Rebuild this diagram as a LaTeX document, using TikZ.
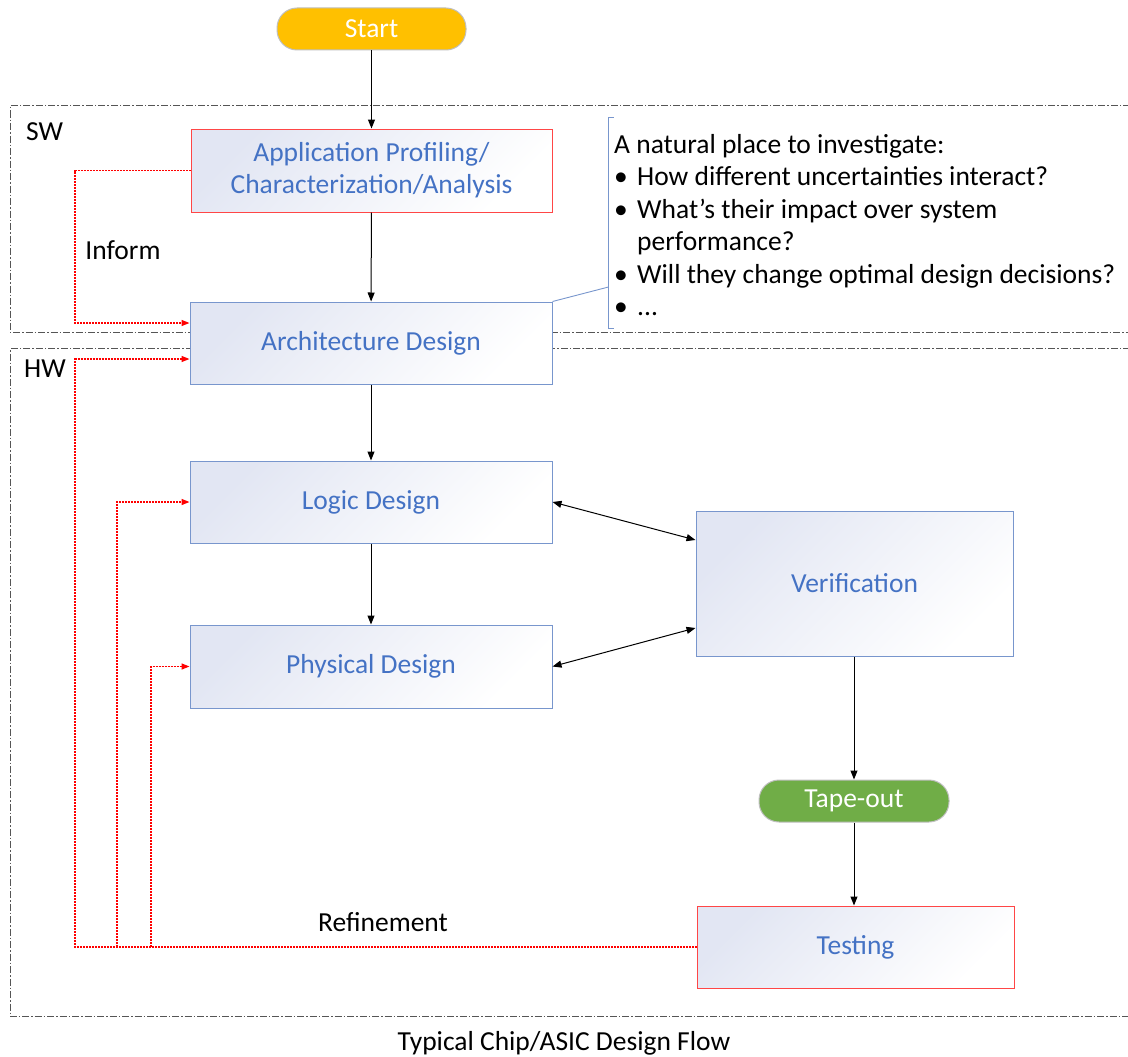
\documentclass[tikz,border=0pt]{standalone}
\usepackage{fontspec}
\setmainfont{Carlito}
\usetikzlibrary{arrows.meta}
\definecolor{boxblue}{RGB}{120,150,205}
\definecolor{boxred}{RGB}{255,70,70}
\definecolor{txtblue}{RGB}{68,114,196}
\definecolor{lav}{RGB}{226,230,243}
\definecolor{startfill}{RGB}{255,192,0}
\definecolor{tapefill}{RGB}{112,173,71}
\definecolor{regiongray}{RGB}{85,85,85}
\tikzset{
  base/.style={font=\fontsize{27.5}{32}\selectfont},
  stage/.style={base, draw=boxblue, line width=1pt, top color=lav, bottom color=white,
    shading angle=45, text=txtblue, align=center, inner sep=0pt},
  redstage/.style={stage, draw=boxred},
  term/.style={base, draw=black!25, line width=1pt, rounded corners=20pt, text=white,
    minimum width=189pt, minimum height=42pt, inner sep=0pt},
  flow/.style={line width=1pt, -{Triangle[length=9pt,width=7pt]}},
  both/.style={line width=1pt, {Triangle[length=9pt,width=7pt]}-{Triangle[length=9pt,width=7pt]}},
  fb/.style={red, line width=1.4pt, dash pattern=on 2pt off 1pt},
  fbarrow/.style={fb, -{Triangle[length=8pt,width=6pt]}},
  region/.style={regiongray, line width=0.9pt, dash pattern=on 7pt off 2pt on 1.5pt off 2pt},
  lbl/.style={base, inner sep=0pt},
}
\begin{document}
\begin{tikzpicture}[x=1pt,y=-1pt]
\useasboundingbox (0,0) rectangle (1128,1057);

% SW / HW regions (open on the right)
\draw[region] (1130,105.5) -- (10,105.5) -- (10,332.5) -- (1130,332.5);
\draw[region] (1130,348.5) -- (10,348.5) -- (10,1016.5) -- (1130,1016.5);
\node[lbl, anchor=west] (swl) at (26,132) {SW};
\node[lbl, anchor=west] (hwl) at (24,369) {HW};

% terminals
\node[term, fill=startfill] (start) at (371.5,29) {Start};
\node[term, fill=tapefill, minimum width=190pt] (tape) at (854,801) {Tape-out};

% stages
\node[redstage, minimum width=361pt, minimum height=83pt] (app) at (371.5,170.5)
  {Application Profiling/\\Characterization/Analysis};
\node[stage, minimum width=362pt, minimum height=82pt] (arch) at (371,343) {Architecture Design};
\node[stage, minimum width=362pt, minimum height=82pt] (logic) at (371,502) {Logic Design};
\node[stage, minimum width=362pt, minimum height=83pt] (phys) at (371,666.5) {Physical Design};
\node[stage, minimum width=317pt, minimum height=145pt] (verif) at (854.5,583.5) {Verification};
\node[redstage, minimum width=317pt, minimum height=82pt] (test) at (855.5,947) {Testing};

% main flow
\draw[flow] (start) -- (app);
\draw[flow] (app) -- (arch);
\draw[flow] (arch) -- (logic);
\draw[flow] (logic) -- (phys);
\draw[both] (logic.east) -- ([yshift=43.5pt]verif.west);
\draw[both] (phys.east) -- ([yshift=-44.5pt]verif.west);
\draw[flow] (verif.south -| tape.north) -- (tape.north);
\draw[flow] (tape.south) -- (tape.south |- test.north);

% feedback paths
\coordinate (ia) at (75,170.5);
\coordinate (ib) at (75,323);
\draw[fbarrow] (app.west) -- (ia) -- (ib) -- (ib -| arch.west);
\node[lbl] (inform) at (123,250) {Inform};

\coordinate (r0) at (75,947);
\coordinate (r1) at (117,947);
\coordinate (r2) at (151,947);
\coordinate (ra) at (75,359);
\coordinate (rb) at (117,502);
\coordinate (rc) at (151,666.5);
\draw[fbarrow] (test.west) -- (r0) -- (ra) -- (ra -| arch.west);
\draw[fbarrow] (r1) -- (rb) -- (logic.west);
\draw[fbarrow] (r2) -- (rc) -- (phys.west);
\node[lbl] (refine) at (383,922) {Refinement};

% annotation with bracket
\coordinate (bt) at (608.5,117);
\coordinate (bb) at (608.5,328);
\coordinate (bm) at (608.5,287);
\draw[boxblue, line width=0.9pt] ([xshift=5pt]bt) -- (bt) -- (bb) -- ([xshift=5pt]bb);
\draw[boxblue, line width=0.9pt] (arch.north east) -- (bm);
\node[lbl, anchor=base west] (n0) at (614,153) {A natural place to investigate:};
\node[lbl, anchor=base west] (n1) at (614,185.5) {\makebox[23pt][l]{•}How different uncertainties interact?};
\node[lbl, anchor=base west] (n2) at (614,218) {\makebox[23pt][l]{•}What’s their impact over system};
\node[lbl, anchor=base west] (n3) at (637,250.5) {performance?};
\node[lbl, anchor=base west] (n4) at (614,283) {\makebox[23pt][l]{•}Will they change optimal design decisions?};
\node[lbl, anchor=base west] (n5) at (614,315.5) {\makebox[23pt][l]{•}...};

% caption
\node[lbl] (cap) at (564,1043) {Typical Chip/ASIC Design Flow};
\end{tikzpicture}
\end{document}
